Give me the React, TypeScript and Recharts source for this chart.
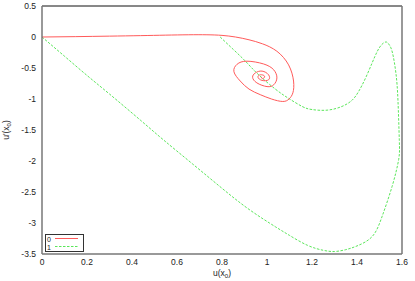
import React from "react";
import { LineChart, Line, XAxis, YAxis, Legend, Label } from "recharts";

type Pt = { x: number; y: number };

const xTicks = [0, 0.2, 0.4, 0.6, 0.8, 1, 1.2, 1.4, 1.6];
const yTicks = [0.5, 0, -0.5, -1, -1.5, -2, -2.5, -3, -3.5];

// curve "0" (red, solid) - spirals into the fixed point
const curve0: Pt[] = [
  { x: 0, y: 0 }, { x: 0.15, y: 0.006 }, { x: 0.3, y: 0.014 }, { x: 0.437, y: 0.022 },
  { x: 0.55, y: 0.03 }, { x: 0.65, y: 0.036 }, { x: 0.733, y: 0.036 }, { x: 0.8, y: 0.026 },
  { x: 0.86, y: 0.0 }, { x: 0.92, y: -0.045 }, { x: 0.98, y: -0.11 }, { x: 1.044, y: -0.23 },
  { x: 1.096, y: -0.45 }, { x: 1.118, y: -0.71 }, { x: 1.115, y: -0.9 }, { x: 1.098, y: -1.0 },
  { x: 1.07, y: -1.04 }, { x: 1.02, y: -1.0 }, { x: 0.97, y: -0.93 }, { x: 0.92, y: -0.84 },
  { x: 0.881, y: -0.71 }, { x: 0.853, y: -0.56 }, { x: 0.867, y: -0.44 }, { x: 0.911, y: -0.39 },
  { x: 0.985, y: -0.435 }, { x: 1.03, y: -0.53 }, { x: 1.044, y: -0.66 }, { x: 1.03, y: -0.77 },
  { x: 1.0, y: -0.8 }, { x: 0.955, y: -0.74 }, { x: 0.936, y: -0.65 }, { x: 0.948, y: -0.58 },
  { x: 0.978, y: -0.55 }, { x: 1.007, y: -0.61 }, { x: 1.007, y: -0.69 }, { x: 0.978, y: -0.7 },
  { x: 0.96, y: -0.65 }, { x: 0.97, y: -0.61 }, { x: 0.989, y: -0.63 }, { x: 0.982, y: -0.67 },
  { x: 0.975, y: -0.655 }, { x: 0.978, y: -0.648 },
];

// curve "1" (green, dashed)
const curve1: Pt[] = [
  { x: 0, y: 0 }, { x: 0.1, y: -0.31 }, { x: 0.2, y: -0.62 }, { x: 0.3, y: -0.92 },
  { x: 0.437, y: -1.34 }, { x: 0.54, y: -1.66 }, { x: 0.67, y: -2.05 }, { x: 0.8, y: -2.44 },
  { x: 0.92, y: -2.78 }, { x: 1.037, y: -3.06 }, { x: 1.1, y: -3.2 }, { x: 1.18, y: -3.36 },
  { x: 1.25, y: -3.44 }, { x: 1.3, y: -3.46 }, { x: 1.35, y: -3.43 }, { x: 1.4, y: -3.37 },
  { x: 1.467, y: -3.22 }, { x: 1.511, y: -2.9 }, { x: 1.556, y: -2.41 }, { x: 1.585, y: -1.98 },
  { x: 1.588, y: -1.66 }, { x: 1.582, y: -1.02 }, { x: 1.573, y: -0.585 }, { x: 1.558, y: -0.26 },
  { x: 1.544, y: -0.13 }, { x: 1.529, y: -0.08 }, { x: 1.508, y: -0.13 }, { x: 1.489, y: -0.24 },
  { x: 1.467, y: -0.42 }, { x: 1.437, y: -0.67 }, { x: 1.407, y: -0.88 }, { x: 1.378, y: -1.02 },
  { x: 1.333, y: -1.12 }, { x: 1.267, y: -1.18 }, { x: 1.2, y: -1.17 }, { x: 1.156, y: -1.12 },
  { x: 1.096, y: -0.99 }, { x: 1.037, y: -0.84 }, { x: 0.96, y: -0.6 }, { x: 0.904, y: -0.39 },
  { x: 0.85, y: -0.2 }, { x: 0.792, y: 0.0 },
];

const legendNames = ["0", "1"];

const font = "'Liberation Sans', Arial, sans-serif";
const red = "#ff5a5a";
const green = "#5ae65a";
const axisGrey = "#777";

function XLab(props: any) {
  const vb = props.viewBox;
  return (
    <text x={vb.x + vb.width / 2} y={vb.y + vb.height - 5} textAnchor="middle" fontFamily={font} fontSize={8.5} fill="#222">
      u(x<tspan dy={2} fontSize={6}>0</tspan><tspan dy={-2}>)</tspan>
    </text>
  );
}

function YLab(props: any) {
  const vb = props.viewBox;
  const cx = vb.x + 9;
  const cy = vb.y + vb.height / 2;
  return (
    <text x={cx} y={cy} transform={`rotate(-90 ${cx} ${cy})`} textAnchor="middle" fontFamily={font} fontSize={8.5} fill="#222">
      u'(x<tspan dy={2} fontSize={6}>0</tspan><tspan dy={-2}>)</tspan>
    </text>
  );
}

function LegendBox() {
  return (
    <svg width={40} height={18} style={{ display: "block" }}>
      <rect x={0.5} y={0.5} width={38} height={17} fill="#fff" stroke="#333" />
      <text x={2} y={7.5} fontFamily={font} fontSize={7} fill="#222">{legendNames[0]}</text>
      <line x1={10} x2={33} y1={4.5} y2={4.5} stroke={red} />
      <text x={2} y={15.5} fontFamily={font} fontSize={7} fill="#222">{legendNames[1]}</text>
      <line x1={10} x2={33} y1={12.5} y2={12.5} stroke={green} strokeDasharray="2.5 1.5" />
    </svg>
  );
}

export default function App() {
  const tickStyle = { fontFamily: font, fontSize: 8.5, fill: "#222" };
  return (
    <div style={{ position: "absolute", left: 0, top: 0, width: 415, height: 281, background: "#fff" }}>
      <LineChart width={415} height={281} margin={{ top: 6, right: 13, bottom: 0, left: 0 }}>
        <XAxis
          xAxisId={0}
          type="number"
          dataKey="x"
          domain={[0, 1.6]}
          ticks={xTicks}
          allowDataOverflow
          height={27}
          tickLine={false}
          tickSize={0}
          tickMargin={5}
          tick={tickStyle}
          axisLine={{ stroke: axisGrey, strokeWidth: 1.5 }}
        >
          <Label content={XLab} />
        </XAxis>
        <XAxis xAxisId="bm" type="number" domain={[0, 1.6]} ticks={xTicks} mirror orientation="bottom" tick={false} tickSize={4} tickLine={{ stroke: "#333" }} axisLine={false} />
        <XAxis xAxisId="tm" type="number" domain={[0, 1.6]} ticks={xTicks} mirror orientation="top" tick={false} tickSize={4} tickLine={{ stroke: "#333" }} axisLine={{ stroke: "#111" }} />
        <YAxis
          yAxisId={0}
          type="number"
          domain={[-3.5, 0.5]}
          ticks={yTicks}
          allowDataOverflow
          width={42}
          tickLine={false}
          tickSize={0}
          tickMargin={6}
          tick={tickStyle}
          axisLine={{ stroke: axisGrey, strokeWidth: 1.5 }}
        >
          <Label content={YLab} />
        </YAxis>
        <YAxis yAxisId="lm" type="number" domain={[-3.5, 0.5]} ticks={yTicks} mirror orientation="left" tick={false} tickSize={4} tickLine={{ stroke: "#333" }} axisLine={false} />
        <YAxis yAxisId="rm" type="number" domain={[-3.5, 0.5]} ticks={yTicks} mirror orientation="right" tick={false} tickSize={4} tickLine={{ stroke: "#333" }} axisLine={{ stroke: axisGrey, strokeWidth: 1.5 }} />
        <Legend
          layout="horizontal"
          align="center"
          verticalAlign="middle"
          wrapperStyle={{ left: 45, top: 234, width: 40, height: 18 }}
          content={() => <LegendBox />}
        />
        <Line
          xAxisId={0}
          yAxisId={0}
          data={curve1}
          dataKey="y"
          name={legendNames[1]}
          type="natural"
          stroke={green}
          strokeWidth={1}
          strokeDasharray="2.5 1.5"
          dot={false}
          isAnimationActive={false}
        />
        <Line
          xAxisId={0}
          yAxisId={0}
          data={curve0}
          dataKey="y"
          name={legendNames[0]}
          type="natural"
          stroke={red}
          strokeWidth={1}
          dot={false}
          isAnimationActive={false}
        />
      </LineChart>
    </div>
  );
}
